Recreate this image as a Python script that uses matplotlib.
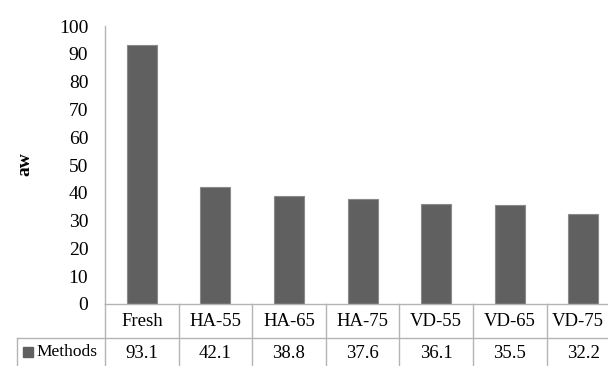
import matplotlib
matplotlib.use("Agg")
import matplotlib.pyplot as plt
from matplotlib.transforms import blended_transform_factory
from matplotlib.lines import Line2D
from matplotlib.patches import Rectangle

categories = ["Fresh", "HA-55", "HA-65", "HA-75", "VD-55", "VD-65", "VD-75"]
values = [93.1, 42.1, 38.8, 37.6, 36.1, 35.5, 32.2]
series_name = "Methods"
y_label = "aw"
y_ticks = list(range(0, 101, 10))

W, H = 608, 366
plt.rcParams["font.family"] = ["Liberation Serif", "DejaVu Serif"]
fig = plt.figure(figsize=(W / 100, H / 100), dpi=100)

bar_color = "#606060"
line_color = "#b4b4b4"
fs_tick = 14
fs_table = 13.5

# plot area (right part runs past the figure edge)
left, bottom, top = 105, 304, 26
col_w = 73.6
ax = fig.add_axes([left / W, (H - bottom) / H, 7 * col_w / W, (bottom - top) / H])
x = list(range(len(categories)))
ax.bar(x, values, width=0.41, color=bar_color, edgecolor="#8a8a8a", linewidth=0.8, zorder=3)
ax.set_xlim(-0.5, len(categories) - 0.5)
ax.set_ylim(0, 100)
ax.set_yticks(y_ticks)
ax.set_yticklabels([str(t) for t in y_ticks], fontsize=fs_tick)
ax.tick_params(axis="y", length=0, pad=12)
ax.set_xticks([])
for s in ["top", "right", "bottom"]:
    ax.spines[s].set_visible(False)
ax.spines["left"].set_color(line_color)
ax.spines["left"].set_linewidth(1.0)

def fy(py):
    return (H - py) / H

fig.text(25 / W, fy(164), y_label, rotation=90, ha="center", va="center",
         fontsize=fs_tick, fontweight="bold")

# data table below the plot
tr = blended_transform_factory(ax.transData, fig.transFigure)

row1_top, row_mid, row2_bot = 304, 337.5, 371
header_left = 17

fig.add_artist(Line2D([left / W, 1], [fy(row1_top)] * 2, color=line_color, lw=1.0))
fig.add_artist(Line2D([header_left / W, 1], [fy(row_mid)] * 2, color=line_color, lw=1.0))
fig.add_artist(Line2D([header_left / W, 1], [fy(row2_bot)] * 2, color=line_color, lw=1.0))
fig.add_artist(Line2D([header_left / W] * 2, [fy(row_mid), fy(row2_bot)], color=line_color, lw=1.0))
for i in range(len(categories) + 1):
    fig.add_artist(Line2D([i - 0.5] * 2, [fy(row1_top), fy(row2_bot)],
                          transform=tr, color=line_color, lw=1.0))

# the last column is cut by the figure edge: centre its label in the visible part
fig_right = ax.transData.inverted().transform((W, 0))[0]
for i, (c, v) in enumerate(zip(categories, values)):
    cx = i
    if i + 0.5 > fig_right:
        cx = (i - 0.5 + fig_right) / 2
    fig.text(cx, fy(321), c, transform=tr, ha="center", va="center", fontsize=fs_table)
    fig.text(i, fy(353), f"{v:.1f}", transform=tr, ha="center", va="center", fontsize=fs_table)

# series key in the header cell
fig.add_artist(Rectangle((23 / W, fy(357)), 10 / W, 10 / H, color=bar_color))
fig.text(36 / W, fy(352), series_name, ha="left", va="center", fontsize=12.5)

fig.savefig("out.png", dpi=100)
